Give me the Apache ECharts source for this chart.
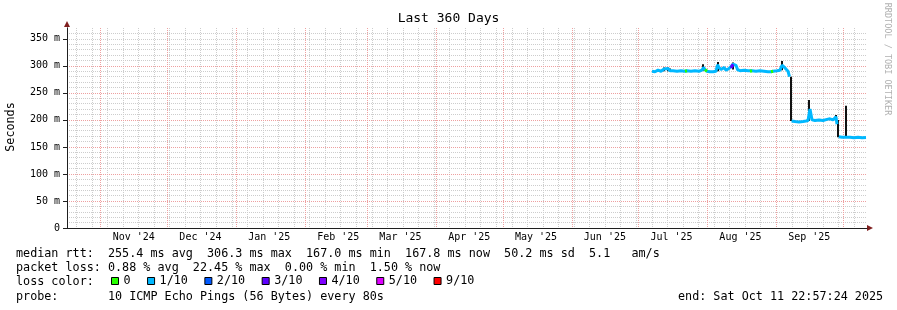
<!DOCTYPE html>
<html><head><meta charset="utf-8">
<script src="https://cdn.jsdelivr.net/npm/echarts@6/dist/echarts.min.js"></script>
<style>html,body{margin:0;padding:0;background:#fff}#c{width:897px;height:310px}</style>
</head><body><div id="c"></div>
<script>
// ---- data ----
const startTime = '2024-10-16T22:57:24';
const endTime = '2025-10-11T22:57:24';

const times = [
 '2025-07-07T05:00','2025-07-08T13:00','2025-07-09T22:00','2025-07-11T06:00','2025-07-12T15:00',
 '2025-07-13T12:00','2025-07-14T10:00','2025-07-15T07:00','2025-07-16T16:00','2025-07-18T11:00',
 '2025-07-20T06:00','2025-07-22T01:00','2025-07-22T23:00','2025-07-24T18:00','2025-07-26T13:00',
 '2025-07-28T09:00','2025-07-29T17:00','2025-07-30T09:00','2025-07-31T01:00','2025-07-31T23:00',
 '2025-08-02T07:00','2025-08-03T16:00','2025-08-05T00:00','2025-08-05T17:00','2025-08-06T09:00',
 '2025-08-07T06:00','2025-08-08T15:00','2025-08-09T12:00','2025-08-10T21:00','2025-08-11T18:00',
 '2025-08-12T16:00','2025-08-14T00:00','2025-08-14T17:00','2025-08-15T19:00','2025-08-17T15:00',
 '2025-08-19T10:00','2025-08-20T07:00','2025-08-21T05:00','2025-08-23T00:00','2025-08-24T19:00',
 '2025-08-26T15:00','2025-08-28T10:00','2025-08-29T18:00','2025-08-30T16:00','2025-09-01T11:00',
 '2025-09-02T19:00','2025-09-03T17:00','2025-09-04T15:00','2025-09-05T12:00','2025-09-06T10:00',
 '2025-09-07T02:00','2025-09-07T15:00','2025-09-08T00:00','2025-09-09T13:00','2025-09-11T09:00',
 '2025-09-13T04:00','2025-09-14T12:00','2025-09-15T10:00','2025-09-16T07:00','2025-09-16T18:00',
 '2025-09-17T05:00','2025-09-18T13:00','2025-09-20T09:00','2025-09-22T04:00','2025-09-23T23:00',
 '2025-09-25T07:00','2025-09-26T16:00','2025-09-27T13:00','2025-09-28T00:00','2025-09-28T11:00',
 '2025-09-28T22:00','2025-09-29T06:00','2025-09-30T17:00','2025-10-02T12:00','2025-10-04T07:00',
 '2025-10-06T03:00','2025-10-07T22:00','2025-10-09T17:00','2025-10-11T12:00'
];
const median = [
 290,289,292,290,294, 292,295,291,291,290, 291,290,291,290,291, 290,292,297,293,290,
 289,289,290,302,297, 293,297,292,295,296, 303,301,293,291,292, 291,290,291,290,291,
 290,289,289,290,291, 292,301,298,294,290, 280,null,198,197,196, 197,198,199,220,218,
 200,199,200,199,201, 202,200,199,206,192, null,169,168,168,168, 167,168,167,167.5
];
// packet loss per sample (out of 10 pings)
const loss = [
 1,1,1,1,1, 1,1,1,1,1, 1,0,1,1,1, 1,1,1,0,1,
 1,1,1,1,1, 1,1,1,1,3, 1,1,1,1,1, 1,0,1,1,1,
 1,1,0,1,1, 1,1,1,1,1, 1,1,1,1,1, 1,1,1,1,1,
 1,1,1,1,1, 1,1,1,1,1, 1,1,1,1,1, 1,1,1,1
];
// smoke (ping spread) ranges
const smokeTimes = ['2025-07-12T15:00','2025-07-14T10:00','2025-07-15T07:00','2025-07-30T09:00','2025-08-05T17:00',
 '2025-08-12T16:00','2025-09-03T17:00','2025-09-07T15:00','2025-09-15T21:00','2025-09-28T00:00',
 '2025-09-28T22:00','2025-10-02T12:00'];
const smokeLow  = [290,290,290,291,290, 293,292,198,198,200, 168,168];
const smokeHigh = [297,297,295,303,307, 306,309,280,237,209, 200,226];

const monthLabelAt = ['2024-11-16','2024-12-16','2025-01-16','2025-02-16','2025-03-16','2025-04-16',
 '2025-05-16','2025-06-16','2025-07-16','2025-08-16','2025-09-16'];
const monthLabelText = ["Nov '24","Dec '24","Jan '25","Feb '25","Mar '25","Apr '25",
 "May '25","Jun '25","Jul '25","Aug '25","Sep '25"];
const yTickValues = [0,50,100,150,200,250,300,350];

const lossNames  = ['0','1/10','2/10','3/10','4/10','5/10','9/10'];
const lossLevels = [0,1,2,3,4,5,9];
const lossColors = ['#26ff00','#00b8ff','#0059ff','#5e00ff','#7e00ff','#dd00ff','#ff0000'];

const statLines = [
 'median rtt:  255.4 ms avg  306.3 ms max  167.0 ms min  167.8 ms now  50.2 ms sd  5.1   am/s',
 'packet loss: 0.88 % avg  22.45 % max  0.00 % min  1.50 % now',
 'loss color:',
 'probe:       10 ICMP Echo Pings (56 Bytes) every 80s'
];
const endText = 'end: Sat Oct 11 22:57:24 2025';

// ---- build ----
const ts = s => new Date(s).getTime();
const t0 = ts(startTime), t1 = ts(endTime);
const mono = '"DejaVu Sans Mono", monospace';
const legendFont = 11.75;
const minorGrid = '#cdcdcd', majorGrid = '#eea0a0';

// grid line positions (weekly minor, monthly major)
const weekly = [], monthly = [];
for (let d = new Date(2024, 9, 14); d.getTime() <= t1; d = new Date(d.getFullYear(), d.getMonth(), d.getDate() + 7)) {
  if (d.getTime() >= t0) weekly.push([d.getTime(), 0]);
}
for (let m = new Date(2024, 10, 1); m.getTime() <= t1; m = new Date(m.getFullYear(), m.getMonth() + 1, 1)) {
  monthly.push([m.getTime(), 0]);
}
const monthLabelTs = monthLabelAt.map(s => ts(s + 'T00:00'));

const medianData = times.map((t, i) => [ts(t), median[i]]);
function levelData(level) {
  return times.map((t, i) => {
    const on = loss[i] === level || (i > 0 && loss[i - 1] === level);
    return [ts(t), on ? median[i] : null];
  });
}
const smokeData = smokeTimes.map((t, i) => [ts(t), smokeLow[i], smokeHigh[i]]);

function vGrid(color) {
  return (params, api) => {
    const x = Math.round(api.coord([api.value(0), 0])[0]) + 0.5;
    const cs = params.coordSys;
    return { type: 'line', shape: { x1: x, y1: cs.y, x2: x, y2: cs.y + cs.height },
      style: { stroke: color, lineWidth: 1, lineDash: [1, 1] } };
  };
}

const lossSeries = lossLevels.map((lv, k) => ({
  type: 'line', name: lossNames[k],
  data: lv === 1 ? medianData : levelData(lv),
  showSymbol: false, connectNulls: false, silent: true,
  z: lv === 1 ? 5 : 6,
  itemStyle: { color: lossColors[k] },
  lineStyle: { color: lossColors[k], width: 3 },
  emphasis: { disabled: true }
}));

const chart = echarts.init(document.getElementById('c'), null, { renderer: 'canvas' });
chart.setOption({
  animation: false,
  backgroundColor: '#fff',
  title: {
    text: 'Last 360 Days', left: 'center', top: 12, padding: 0,
    textStyle: { fontFamily: mono, fontSize: 13, fontWeight: 'normal', color: '#000' }
  },
  grid: { left: 67, right: 30, top: 28, bottom: 82 },
  legend: {
    data: lossNames, left: 111, top: 275, padding: 0,
    itemWidth: 7, itemHeight: 7, itemGap: 16.5, icon: 'rect', selectedMode: false,
    itemStyle: { borderColor: '#000', borderWidth: 1 },
    textStyle: { fontFamily: mono, fontSize: legendFont, color: '#000' }
  },
  xAxis: [
    {
      type: 'value', min: t0, max: t1, position: 'bottom', z: 3,
      axisLine: { show: true, lineStyle: { color: '#1f1f1f', width: 1 } },
      axisTick: { show: false }, splitLine: { show: false }, minorTick: { show: false },
      axisLabel: {
        customValues: monthLabelTs,
        formatter: v => { const i = monthLabelTs.indexOf(v); return i >= 0 ? monthLabelText[i] : ''; },
        fontFamily: mono, fontSize: 10, color: '#000', margin: 4, hideOverlap: false
      }
    },
    {
      type: 'value', min: t0, max: t1, position: 'bottom', z: 2,
      axisLine: { show: true, symbol: ['none', 'triangle'], symbolSize: [6, 6], symbolOffset: [0, 3],
        lineStyle: { color: '#802020', width: 1 } },
      axisTick: { show: false }, axisLabel: { show: false }, splitLine: { show: false }
    }
  ],
  yAxis: [
    {
      type: 'value', min: 0, max: 370, interval: 10, position: 'left', z: 1,
      axisLine: { show: true, symbol: ['none', 'triangle'], symbolSize: [6, 6], symbolOffset: [0, 4],
        lineStyle: { color: '#802020', width: 1 } },
      axisTick: { show: false }, axisLabel: { show: false },
      splitLine: { show: true, showMaxLine: false, showMinLine: false, lineStyle: { color: minorGrid, type: [1, 1], width: 1 } }
    },
    {
      type: 'value', min: 0, max: 370, interval: 50, position: 'left', z: 2,
      axisLine: { show: true, lineStyle: { color: '#1f1f1f', width: 1 } },
      axisTick: { show: true, length: 4, customValues: yTickValues, lineStyle: { color: '#1f1f1f' } },
      axisLabel: {
        customValues: yTickValues,
        formatter: v => v === 0 ? '0' : v + ' m',
        fontFamily: mono, fontSize: 10, color: '#000', margin: 7
      },
      splitLine: { show: true, showMaxLine: false, showMinLine: false, lineStyle: { color: majorGrid, type: [1, 1], width: 1 } }
    }
  ],
  series: [
    { type: 'custom', name: 'weekGrid', data: weekly, z: 1, silent: true, encode: { x: 0, y: 1 }, renderItem: vGrid(minorGrid) },
    { type: 'custom', name: 'monthGrid', data: monthly, z: 1, silent: true, encode: { x: 0, y: 1 }, renderItem: vGrid(majorGrid) },
    {
      type: 'custom', name: 'smoke', data: smokeData, z: 4, silent: true,
      encode: { x: 0, y: [1, 2] },
      renderItem: (params, api) => {
        const a = api.coord([api.value(0), api.value(1)]);
        const b = api.coord([api.value(0), api.value(2)]);
        const x = Math.round(a[0]);
        return { type: 'line', shape: { x1: x, y1: a[1], x2: x, y2: b[1] },
          style: { stroke: '#111', lineWidth: 2 } };
      }
    }
  ].concat(lossSeries),
  graphic: [
    { type: 'text', x: 16, y: 253.5, style: { text: statLines[0], font: legendFont + 'px ' + mono, fill: '#000', verticalAlign: 'middle' } },
    { type: 'text', x: 16, y: 268, style: { text: statLines[1], font: legendFont + 'px ' + mono, fill: '#000', verticalAlign: 'middle' } },
    { type: 'text', x: 16, y: 282, style: { text: statLines[2], font: legendFont + 'px ' + mono, fill: '#000', verticalAlign: 'middle' } },
    { type: 'text', x: 16, y: 296.5, style: { text: statLines[3], font: legendFont + 'px ' + mono, fill: '#000', verticalAlign: 'middle' } },
    { type: 'text', x: 678, y: 296.5, style: { text: endText, font: legendFont + 'px ' + mono, fill: '#000', verticalAlign: 'middle' } },
    { type: 'text', x: 11, y: 127, rotation: Math.PI / 2, style: { text: 'Seconds', font: legendFont + 'px ' + mono, fill: '#000', align: 'center', verticalAlign: 'middle' } },
    { type: 'text', x: 887, y: 59, rotation: -Math.PI / 2, style: { text: 'RRDTOOL / TOBI OETIKER', font: '8.5px ' + mono, fill: '#b0b0b0', align: 'center', verticalAlign: 'middle' } }
  ]
});
</script></body></html>
